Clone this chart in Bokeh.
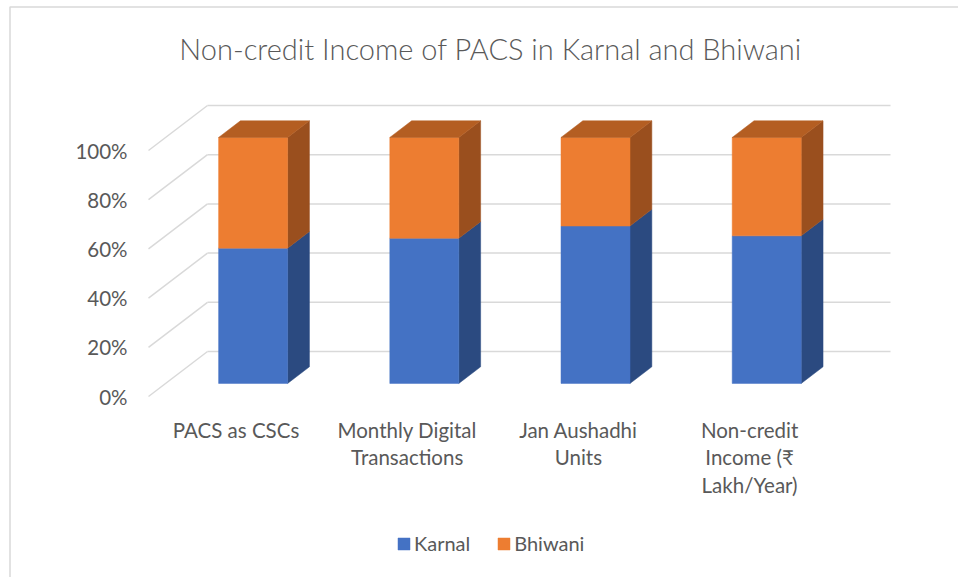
from bokeh.plotting import figure
from bokeh.models import Range1d, Label, Legend, LegendItem, ColumnDataSource
from bokeh.embed import file_html
from bokeh.resources import INLINE
from bokeh.core.properties import value

# ---------------- data ----------------
categories = ["PACS as CSCs", "Monthly Digital\nTransactions", "Jan Aushadhi\nUnits",
              "Non-credit\nIncome (₹\nLakh/Year)"]
karnal = [55, 59, 64, 60]
bhiwani = [45, 41, 36, 40]
y_ticks = [0, 20, 40, 60, 80, 100]
y_tick_labels = ["0%", "20%", "40%", "60%", "80%", "100%"]
series_names = ["Karnal", "Bhiwani"]

# ---------------- layout constants (pixels -> data) ----------------
W, H = 958, 577
PX0, XS = 235.5, 171.2     # pixel x of category 0 on front plane, px per category
PY0, YS = 396.0, 2.46      # pixel y of 0% on front plane, px per percent


def xd(px):
    return (px - PX0) / XS


def yd(py):
    return (PY0 - py) / YS


DX, DY = 59 / XS, 45 / YS   # depth vector, front plane -> back wall
D0, D1 = 0.29, 0.66         # bar front / back depth
BW = 69 / XS                # bar width
XL, XR = xd(148), xd(831)   # plot area on front plane

TXT = "#595959"
GRID = "#d9d9d9"
FONT = value("Lato")

p = figure(width=W, height=H, x_range=Range1d(xd(0), xd(W)), y_range=Range1d(yd(H), yd(0)),
           x_axis_type=None, y_axis_type=None, toolbar_location=None,
           output_backend="svg", min_border=0, outline_line_color=None,
           background_fill_color="white", border_fill_color="white")

# chart border (left + top)
p.line([xd(9.5), xd(9.5), xd(W + 5)], [yd(H + 5), yd(6.5), yd(6.5)], line_color=GRID, line_width=1.5)

# back wall gridlines and left wall diagonals
p.multi_line(xs=[[XL + DX, XR + DX] for v in y_ticks], ys=[[v + DY, v + DY] for v in y_ticks],
             line_color=GRID, line_width=1.5)
p.multi_line(xs=[[XL, XL + DX] for v in y_ticks], ys=[[v, v + DY] for v in y_ticks],
             line_color=GRID, line_width=1.5)

# bars
n = len(categories)
xc = [i + D0 * DX for i in range(n)]
bottoms = [[0] * n, karnal]
tops = [karnal, [k + b for k, b in zip(karnal, bhiwani)]]
front_cols = ["#4472C4", "#ED7D31"]
side_cols = ["#2B4A80", "#9A4F1E"]
dd = D1 - D0

renderers = []
for s in range(2):
    b0, t0 = bottoms[s], tops[s]
    side_xs = [[x + BW / 2, x + BW / 2 + dd * DX, x + BW / 2 + dd * DX, x + BW / 2] for x in xc]
    side_ys = [[lo + D0 * DY, lo + D1 * DY, hi + D1 * DY, hi + D0 * DY] for lo, hi in zip(b0, t0)]
    p.patches(side_xs, side_ys, fill_color=side_cols[s], line_color=side_cols[s], line_width=0.5)
    src = ColumnDataSource(dict(x=xc, bottom=[v + D0 * DY for v in b0], top=[v + D0 * DY for v in t0]))
    r = p.vbar(x="x", width=BW, bottom="bottom", top="top", source=src,
               fill_color=front_cols[s], line_color=front_cols[s], line_width=0.5)
    renderers.append(r)

# top faces
top_vals = tops[1]
top_xs = [[x - BW / 2, x + BW / 2, x + BW / 2 + dd * DX, x - BW / 2 + dd * DX] for x in xc]
top_ys = [[t + D0 * DY, t + D0 * DY, t + D1 * DY, t + D1 * DY] for t in top_vals]
p.patches(top_xs, top_ys, fill_color="#B45E22", line_color="#B45E22", line_width=0.5)

# y tick labels
p.text(x=[xd(127)] * len(y_ticks), y=y_ticks, text=y_tick_labels, text_align="right",
       text_baseline="middle", text_font=FONT, text_font_size="20.5px", text_color=TXT)

# category labels
p.text(x=list(range(n)), y=[yd(417)] * n, text=categories, text_align="center",
       text_baseline="top", text_font=FONT, text_font_size="20.5px", text_color=TXT,
       text_line_height=1.16)

# title
p.add_layout(Label(x=490, y=H - 48, x_units="screen", y_units="screen",
                   text="Non-credit Income of PACS in Karnal and Bhiwani",
                   text_align="center", text_baseline="middle",
                   text_font="Lato Light", text_font_size="29px", text_color=TXT))

# legend
legend = Legend(items=[LegendItem(label=series_names[0], renderers=[renderers[0]]),
                       LegendItem(label=series_names[1], renderers=[renderers[1]])],
                orientation="horizontal", location=(396, 22),
                border_line_color=None, background_fill_alpha=0, padding=0, margin=0,
                glyph_width=15, glyph_height=15, label_standoff=3, spacing=26,
                label_text_font="Lato", label_text_font_size="20px", label_text_color=TXT)
p.add_layout(legend)

open("out.html", "w").write(file_html(p, INLINE))
